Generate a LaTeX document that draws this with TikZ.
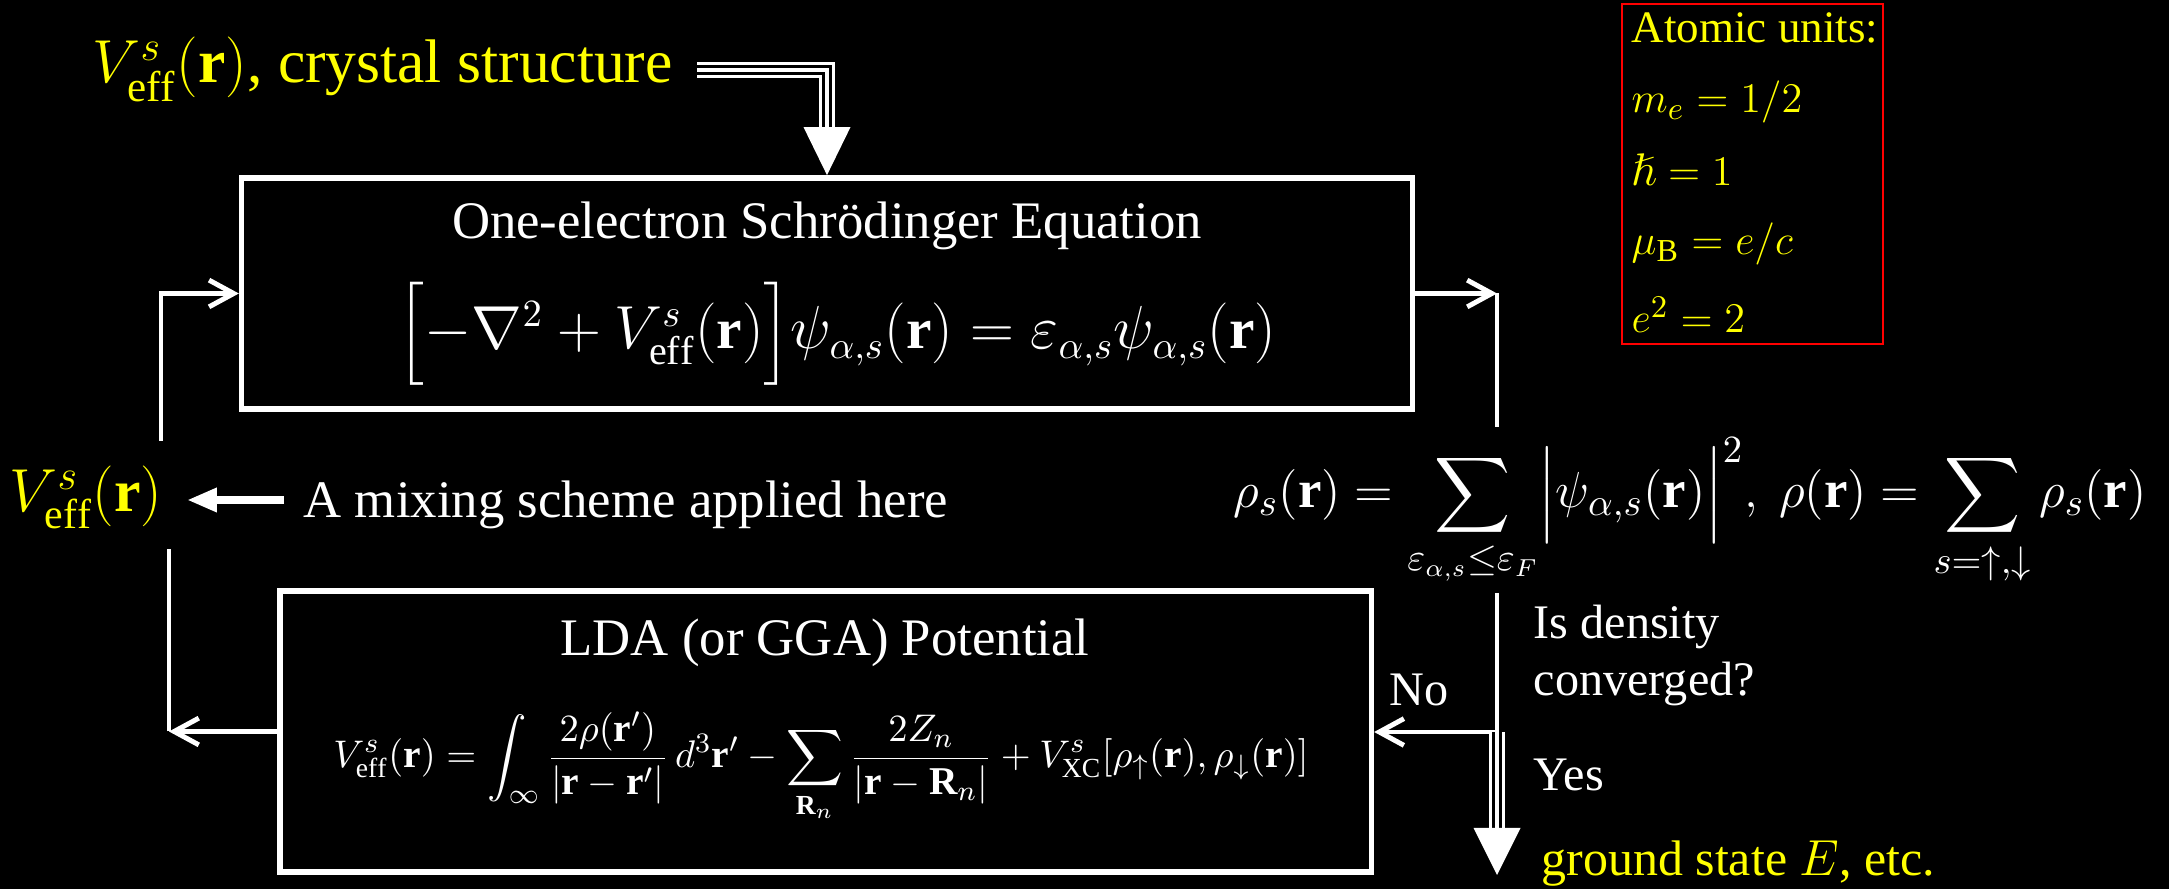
\documentclass[tikz,border=0pt]{standalone}
\usepackage{amsmath,amssymb}
\usepackage{fontspec}
\setmainfont{Liberation Serif}
\usetikzlibrary{arrows.meta,calc,positioning}

\definecolor{slideyellow}{RGB}{255,255,0}

\tikzset{
  txt/.style={text=white, inner sep=0pt},
  hitxt/.style={text=slideyellow, inner sep=0pt},
  panel/.style={draw=white, line width=1.6pt, inner sep=0pt},
  link/.style={draw=white, line width=1.4pt, -{Straight Barb[length=7pt,width=7.6pt]}},
  plainlink/.style={draw=white, line width=1.4pt},
  fatlink/.style={draw=white, line width=2.2pt, -{Triangle[length=8.5pt,width=6.4pt]}},
  tripleouter/.style={draw=white, line width=4.5pt},
  triplegap/.style={draw=black, line width=2.8pt},
  triplecore/.style={draw=white, line width=1pt},
}

\begin{document}
\begin{tikzpicture}[x=0.01cm, y=-0.01cm]
    % 背景
    \fill[black] (0,0) rectangle (2169,889);
    \useasboundingbox (0,0) rectangle (2169,889);

    % 输入
    \node[hitxt, anchor=base west] (input) at (92,83)
        {\fontsize{17.5}{20}\selectfont $V^{s}_{\mathrm{eff}}(\mathbf{r})$, crystal structure};

    % 单电子方程框
    \node[panel, minimum width=11.7cm, minimum height=2.31cm] (sbox) at (827,293.5) {};
    \node[txt, anchor=base] (stitle) at (827,239)
        {\fontsize{15}{18}\selectfont One-electron Schrödinger Equation};
    \node[txt, anchor=base] (seq) at (837,349)
        {\fontsize{16.3}{19}\selectfont $\Bigl[-\nabla^{2}+V^{s}_{\mathrm{eff}}(\mathbf{r})\Bigr]\psi_{\alpha,s}(\mathbf{r})=\varepsilon_{\alpha,s}\psi_{\alpha,s}(\mathbf{r})$};

    % LDA 势框
    \node[panel, minimum width=10.91cm, minimum height=2.81cm] (lbox) at (825.5,731.5) {};
    \node[txt, anchor=base] (ltitle) at (825,656)
        {\fontsize{15}{18}\selectfont LDA (or GGA) Potential};
    \node[txt, anchor=base] (leq) at (821,768)
        {\fontsize{11.2}{14}\selectfont $\displaystyle V^{s}_{\mathrm{eff}}(\mathbf{r})=\int_{\infty}\frac{2\rho(\mathbf{r}')}{\left|\mathbf{r}-\mathbf{r}'\right|}\,d^{3}\mathbf{r}'-\sum_{\mathbf{R}_n}\frac{2Z_n}{\left|\mathbf{r}-\mathbf{R}_n\right|}+V^{s}_{\mathrm{XC}}[\rho_{\uparrow}(\mathbf{r}),\rho_{\downarrow}(\mathbf{r})]$};

    % 原子单位
    \node[draw=red, line width=0.6pt, minimum width=2.61cm, minimum height=3.40cm] (units) at (1752.5,174) {};
    \node[hitxt, anchor=base west] (u0) at (1631,43) {\fontsize{12.8}{15}\selectfont Atomic units:};
    \node[hitxt, anchor=base west] (u1) at (1631,113) {\fontsize{13}{15}\selectfont $m_{e}=1/2$};
    \node[hitxt, anchor=base west] (u2) at (1631,186) {\fontsize{13}{15}\selectfont $\hslash=1$};
    \node[hitxt, anchor=base west] (u3) at (1631,255) {\fontsize{13}{15}\selectfont $\mu_{\mathrm{B}}=e/c$};
    \node[hitxt, anchor=base west] (u4) at (1631,333) {\fontsize{13}{15}\selectfont $e^{2}=2$};

    % 左侧有效势与混合
    \node[hitxt, anchor=base east] (veff) at (163,512)
        {\fontsize{17}{20}\selectfont $V^{s}_{\mathrm{eff}}(\mathbf{r})$};
    \node[txt, anchor=base west] (mixtxt) at (303,518)
        {\fontsize{15}{18}\selectfont A mixing scheme applied here};
    \coordinate (mixfrom) at ($(mixtxt.base west)+(-19,-18)$);
    \draw[fatlink, shorten >=6.8pt] (mixfrom) -- (mixfrom -| veff.east);

    % 密度
    \node[txt, anchor=base] (rho) at (1690,508)
        {\fontsize{15}{18}\selectfont $\displaystyle \rho_{s}(\mathbf{r})=\sum_{\varepsilon_{\alpha,s}\le\varepsilon_{F}}\Bigl|\psi_{\alpha,s}(\mathbf{r})\Bigr|^{2},\ \rho(\mathbf{r})=\sum_{s=\uparrow,\downarrow}\rho_{s}(\mathbf{r})$};

    % 收敛判断
    \node[txt, anchor=base west] (isq) at (1533,639) {\fontsize{13.7}{16}\selectfont Is density};
    \node[txt, anchor=base west] (conv) at (1533,696) {\fontsize{13.7}{16}\selectfont converged?};
    \node[txt, anchor=base west] (nolbl) at (1389,706) {\fontsize{13.7}{16}\selectfont No};
    \node[txt, anchor=base west] (yeslbl) at (1533,791) {\fontsize{13.7}{16}\selectfont Yes};
    \node[hitxt, anchor=base west] (gstate) at (1541,876)
        {\fontsize{14.2}{17}\selectfont ground state $E$, etc.};

    % 循环连线
    \coordinate (vup) at (161,441);
    \coordinate (vdown) at (169,549);
    \coordinate (rhoin) at (1497,427);
    \coordinate (rhoout) at (1497,593);
    \coordinate (decide) at (1497,732);
    \coordinate (rtop) at (sbox.east -| rhoin);
    \coordinate (lcorner) at (lbox.west -| vdown);
    \draw[link] (vup) |- (sbox.west);
    \draw[link] (sbox.east) -- (rtop);
    \draw[plainlink] (rtop) -- (rhoin);
    \draw[plainlink] (rhoout) -- (decide);
    \draw[link] (decide) -- (decide -| lbox.east);
    \draw[link] (lbox.west) -- (lcorner);
    \draw[plainlink] (lcorner) -- (vdown);

    % 三线箭头
    \coordinate (feedin) at (697,70);
    \coordinate (feedend) at ($(sbox.north)+(0,-48)$);
    \draw[tripleouter] (feedin) -| (feedend);
    \draw[triplegap] (feedin) -| (feedend);
    \draw[triplecore] (feedin) -| (feedend);
    \fill[white] (sbox.north) -- ++(-23.5,-48) -- ++(47,0) -- cycle;

    \coordinate (yesend) at (1497,828);
    \coordinate (yestip) at (1497,875);
    \draw[tripleouter] (decide) -- (yesend);
    \draw[triplegap] (decide) -- (yesend);
    \draw[triplecore] (decide) -- (yesend);
    \fill[white] (yestip) -- ++(-23.5,-47) -- ++(47,0) -- cycle;
\end{tikzpicture}
\end{document}
